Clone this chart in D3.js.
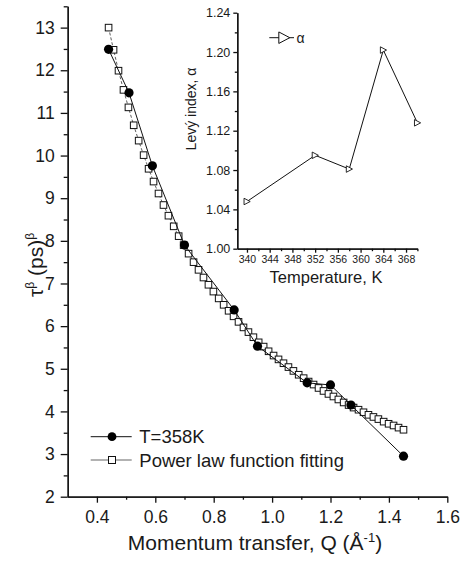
<!DOCTYPE html>
<html>
<head>
<meta charset="utf-8">
<script src="https://cdn.jsdelivr.net/npm/d3@7"></script>
<style>
  body { margin: 0; background: #fff; }
  svg { display: block; font-family: "Liberation Sans", Arial, sans-serif; }
  .axis path, .axis line { stroke: #111; stroke-width: 1.3; }
  .axis text { fill: #1a1a1a; }
</style>
</head>
<body>
<svg id="chart" width="468" height="561"></svg>
<script>
// measured data, T=358K
var qData = [0.44, 0.51, 0.59, 0.70, 0.87, 0.95, 1.12, 1.20, 1.27, 1.45];
var tauData = [12.49, 11.47, 9.76, 7.90, 6.38, 5.53, 4.67, 4.62, 4.15, 2.95];

// power law fitting curve
var qFit = [0.440, 0.457, 0.474, 0.491, 0.508, 0.526, 0.543, 0.560, 0.577, 0.594,
            0.611, 0.628, 0.645, 0.663, 0.680, 0.697, 0.714, 0.731, 0.748, 0.765,
            0.782, 0.799, 0.817, 0.834, 0.851, 0.868, 0.885, 0.902, 0.919, 0.936,
            0.954, 0.971, 0.988, 1.005, 1.022, 1.039, 1.056, 1.073, 1.091, 1.108,
            1.125, 1.142, 1.159, 1.176, 1.193, 1.210, 1.227, 1.245, 1.262, 1.279,
            1.296, 1.313, 1.330, 1.347, 1.364, 1.382, 1.399, 1.416, 1.433, 1.450];
var tauFit = [13.00, 12.48, 11.99, 11.54, 11.13, 10.71, 10.35, 10.01, 9.69, 9.39,
              9.11, 8.84, 8.59, 8.34, 8.11, 7.90, 7.70, 7.50, 7.32, 7.14,
              6.97, 6.81, 6.65, 6.50, 6.36, 6.23, 6.10, 5.97, 5.86, 5.74,
              5.62, 5.52, 5.41, 5.31, 5.22, 5.13, 5.04, 4.95, 4.86, 4.78,
              4.70, 4.63, 4.55, 4.48, 4.41, 4.35, 4.28, 4.21, 4.15, 4.09,
              4.04, 3.98, 3.92, 3.87, 3.82, 3.76, 3.71, 3.67, 3.62, 3.57];

// inset: Levy index vs temperature
var temps = [340, 352, 358, 364, 370];
var alphas = [1.048, 1.095, 1.081, 1.202, 1.128];

var xTicks = [0.4, 0.6, 0.8, 1.0, 1.2, 1.4, 1.6];
var yTicks = [2, 3, 4, 5, 6, 7, 8, 9, 10, 11, 12, 13];
var tTicks = [340, 344, 348, 352, 356, 360, 364, 368];
var aTicks = [1.00, 1.04, 1.08, 1.12, 1.16, 1.20, 1.24];

var svg = d3.select("#chart");

var x = d3.scaleLinear().domain([0.3, 1.6]).range([67.7, 447.3]);
var y = d3.scaleLinear().domain([2, 13.5]).range([496.7, 6.3]);

// main axes
svg.append("g").attr("class", "axis")
  .attr("transform", "translate(0," + y(2) + ")")
  .call(d3.axisBottom(x).tickValues(d3.range(0.5, 1.6, 0.2)).tickSize(3).tickFormat("").tickSizeOuter(0));
svg.append("g").attr("class", "axis")
  .attr("transform", "translate(0," + y(2) + ")")
  .call(d3.axisBottom(x).tickValues(xTicks).tickSize(6).tickPadding(8).tickFormat(d3.format(".1f")).tickSizeOuter(0))
  .selectAll("text").style("font-size", "17.5px");

svg.append("g").attr("class", "axis")
  .attr("transform", "translate(" + x(0.3) + ",0)")
  .call(d3.axisLeft(y).tickValues(d3.range(2.5, 13.6, 1)).tickSize(4).tickFormat("").tickSizeOuter(0));
svg.append("g").attr("class", "axis")
  .attr("transform", "translate(" + x(0.3) + ",0)")
  .call(d3.axisLeft(y).tickValues(yTicks).tickSize(7).tickPadding(6).tickSizeOuter(0))
  .selectAll("text").style("font-size", "17.5px");

// axis titles
var xt = svg.append("text").attr("x", 255).attr("y", 550).attr("text-anchor", "middle")
  .style("font-size", "21px").style("fill", "#1a1a1a");
xt.append("tspan").text("Momentum transfer, Q (Å");
xt.append("tspan").attr("dy", -8).style("font-size", "13px").text("-1");
xt.append("tspan").attr("dy", 8).text(")");

var yt = svg.append("text").attr("transform", "translate(43,265) rotate(-90)")
  .attr("text-anchor", "middle").style("font-size", "21px").style("fill", "#1a1a1a");
yt.append("tspan").text("τ");
yt.append("tspan").attr("dy", -9).style("font-size", "12px").text("β");
yt.append("tspan").attr("dy", 9).text(" (ps)");
yt.append("tspan").attr("dy", -9).style("font-size", "12px").text("β");

// fitting squares with dashed line
var line = d3.line().x(function(d){ return x(d[0]); }).y(function(d){ return y(d[1]); });
var fitPts = d3.zip(qFit, tauFit);
svg.append("path").attr("d", line(fitPts)).attr("fill", "none")
  .attr("stroke", "#333").attr("stroke-width", 0.8).attr("stroke-dasharray", "3,2");
svg.selectAll("rect.fit").data(fitPts).enter().append("rect")
  .attr("class", "fit")
  .attr("x", function(d){ return x(d[0]) - 3.3; })
  .attr("y", function(d){ return y(d[1]) - 3.3; })
  .attr("width", 6.6).attr("height", 6.6)
  .attr("fill", "#fff").attr("stroke", "#111").attr("stroke-width", 1);

// measured points
var dataPts = d3.zip(qData, tauData);
svg.append("path").attr("d", line(dataPts)).attr("fill", "none")
  .attr("stroke", "#111").attr("stroke-width", 1);
svg.selectAll("circle.dat").data(dataPts).enter().append("circle")
  .attr("class", "dat")
  .attr("cx", function(d){ return x(d[0]); })
  .attr("cy", function(d){ return y(d[1]); })
  .attr("r", 4.6).attr("fill", "#000");

// legend
var lg = svg.append("g");
lg.append("line").attr("x1", 90.7).attr("x2", 131.7).attr("y1", 436.7).attr("y2", 436.7)
  .attr("stroke", "#111").attr("stroke-width", 1);
lg.append("circle").attr("cx", 112).attr("cy", 436.7).attr("r", 4.4).attr("fill", "#000");
lg.append("text").attr("x", 139.3).attr("y", 443.3).style("font-size", "18.5px")
  .style("fill", "#1a1a1a").text("T=358K");
lg.append("line").attr("x1", 90.7).attr("x2", 131.7).attr("y1", 460).attr("y2", 460)
  .attr("stroke", "#666").attr("stroke-width", 1.2);
lg.append("rect").attr("x", 108.5).attr("y", 456.5).attr("width", 7).attr("height", 7)
  .attr("fill", "#fff").attr("stroke", "#111").attr("stroke-width", 1);
lg.append("text").attr("x", 139.3).attr("y", 466.6).style("font-size", "18.5px")
  .style("fill", "#1a1a1a").text("Power law function fitting");

// inset
var xi = d3.scaleLinear().domain([338.3, 370]).range([237.3, 417.4]);
var yi = d3.scaleLinear().domain([1.00, 1.24]).range([248.7, 12.7]);

svg.append("g").attr("class", "axis")
  .attr("transform", "translate(0," + yi(1) + ")")
  .call(d3.axisBottom(xi).tickValues(d3.range(342, 371, 4)).tickSize(2.5).tickFormat("").tickSizeOuter(0));
svg.append("g").attr("class", "axis")
  .attr("transform", "translate(0," + yi(1) + ")")
  .call(d3.axisBottom(xi).tickValues(tTicks).tickSize(4).tickPadding(3).tickSizeOuter(0))
  .selectAll("text").style("font-size", "10.5px");

svg.append("g").attr("class", "axis")
  .attr("transform", "translate(" + xi.range()[0] + ",0)")
  .call(d3.axisLeft(yi).tickValues(d3.range(1.02, 1.24, 0.04)).tickSize(2.5).tickFormat("").tickSizeOuter(0));
svg.append("g").attr("class", "axis")
  .attr("transform", "translate(" + xi.range()[0] + ",0)")
  .call(d3.axisLeft(yi).tickValues(aTicks).tickSize(4).tickPadding(3).tickFormat(d3.format(".2f")).tickSizeOuter(0))
  .selectAll("text").style("font-size", "12.5px");

svg.selectAll(".axis path.domain").attr("stroke-width", 1.3);

svg.append("text").attr("x", 326).attr("y", 283).attr("text-anchor", "middle")
  .style("font-size", "16.5px").style("fill", "#1a1a1a").text("Temperature, K");
svg.append("text").attr("transform", "translate(196,109) rotate(-90)")
  .attr("text-anchor", "middle").style("font-size", "14px").style("fill", "#1a1a1a")
  .text("Levý index, α");

var inPts = d3.zip(temps, alphas);
var lineI = d3.line().x(function(d){ return xi(d[0]); }).y(function(d){ return yi(d[1]); });
svg.append("path").attr("d", lineI(inPts)).attr("fill", "none")
  .attr("stroke", "#111").attr("stroke-width", 1);

function tri(cx, cy, s) {
  return "M" + (cx - s * 0.45) + "," + (cy - s * 0.5) + "L" + (cx + s * 0.5) + "," + cy +
         "L" + (cx - s * 0.45) + "," + (cy + s * 0.5) + "Z";
}
svg.selectAll("path.tri").data(inPts).enter().append("path")
  .attr("class", "tri")
  .attr("d", function(d){ return tri(xi(d[0]), yi(d[1]), 6.5); })
  .attr("fill", "#fff").attr("stroke", "#111").attr("stroke-width", 0.9);

// inset legend
svg.append("line").attr("x1", 269.3).attr("x2", 294).attr("y1", 37.7).attr("y2", 37.7)
  .attr("stroke", "#111").attr("stroke-width", 1);
svg.append("path").attr("d", tri(284, 37.7, 11.5)).attr("fill", "#fff")
  .attr("stroke", "#111").attr("stroke-width", 1);
svg.append("text").attr("x", 296.5).attr("y", 42.5).style("font-size", "14px")
  .style("fill", "#1a1a1a").text("α");
</script>
</body>
</html>
